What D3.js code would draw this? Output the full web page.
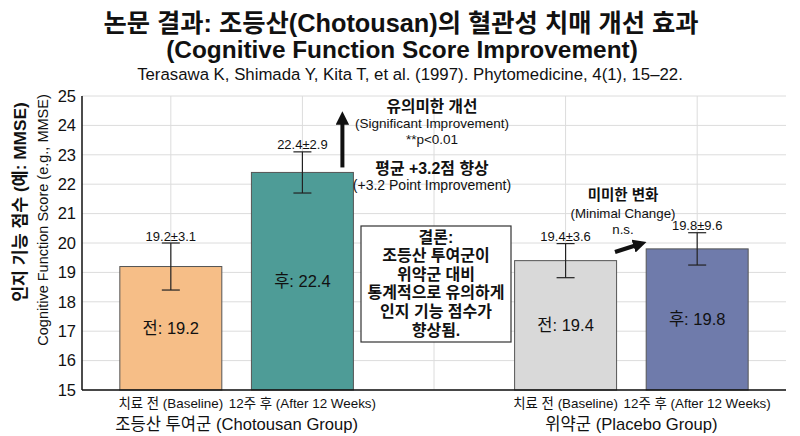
<!DOCTYPE html>
<html>
<head>
<meta charset="utf-8">
<script src="https://cdn.jsdelivr.net/npm/d3@7"></script>
<style>
  html, body { margin: 0; padding: 0; background: #fff; }
  svg { display: block; font-family: "Liberation Sans", Arial, "Noto Sans CJK KR", sans-serif; }
</style>
</head>
<body>
<svg id="chart" width="800" height="436"></svg>
<script>
// ---------- data ----------
const titleLines = [
  "논문 결과: 조등산(Chotousan)의 혈관성 치매 개선 효과",
  "(Cognitive Function Score Improvement)"
];
const citation = "Terasawa K, Shimada Y, Kita T, et al. (1997). Phytomedicine, 4(1), 15\u201322.";
const slots = ["cho_before", "cho_after", "gap", "pla_before", "pla_after"];
const barSlots = ["cho_before", "cho_after", "pla_before", "pla_after"];
const timeLabels = ["치료 전 (Baseline)", "12주 후 (After 12 Weeks)", "치료 전 (Baseline)", "12주 후 (After 12 Weeks)"];
const groupLabels = ["조등산 투여군 (Chotousan Group)", "위약군 (Placebo Group)"];
const groupSlots = [["cho_before", "cho_after"], ["pla_before", "pla_after"]];
const means = [19.2, 22.4, 19.4, 19.8];
const sds = [3.1, 2.9, 3.6, 9.6];
const errDrawn = [0.8, 0.7, 0.58, 0.55];
const barPrefix = ["전", "후", "전", "후"];
const barColors = ["#F6BE87", "#4E9C97", "#D9D9D9", "#6F7BAB"];
const yTicks = [15, 16, 17, 18, 19, 20, 21, 22, 23, 24, 25];
const yLabelKo = "인지 기능 점수 (예: MMSE)";
const yLabelEn = "Cognitive Function Score (e.g., MMSE)";
const sigLines = ["유의미한 개선", "(Significant Improvement)", "**p<0.01"];
const gainLines = ["평균 +3.2점 향상", "(+3.2 Point Improvement)"];
const minimalLines = ["미미한 변화", "(Minimal Change)", "n.s."];
const conclusionLines = ["결론:", "조등산 투여군이", "위약군 대비", "통계적으로 유의하게", "인지 기능 점수가", "향상됨."];

// ---------- layout ----------
const svg = d3.select("#chart");
const pLeft = 82, pRight = 786, pTop = 96, pBottom = 390;

const x = d3.scaleBand().domain(slots).range([pLeft, pRight]).paddingInner(0.225).paddingOuter(0.2875);
const cx = s => x(s) + x.bandwidth() / 2;
const y = d3.scaleLinear().domain([15, 25]).range([pBottom, pTop]);

// gridlines
const grid = svg.append("g");
grid.selectAll("line.h").data(yTicks).join("line").attr("class", "h")
  .attr("x1", pLeft).attr("x2", pRight)
  .attr("y1", d => y(d)).attr("y2", d => y(d))
  .attr("stroke", "#dcdcdc").attr("stroke-width", 1);
grid.selectAll("line.v").data(slots).join("line").attr("class", "v")
  .attr("x1", d => cx(d)).attr("x2", d => cx(d))
  .attr("y1", pTop).attr("y2", pBottom)
  .attr("stroke", "#dcdcdc").attr("stroke-width", 1);

// bars
const bars = svg.append("g");
bars.selectAll("rect").data(means).join("rect")
  .attr("x", (d, i) => x(barSlots[i]))
  .attr("width", x.bandwidth())
  .attr("y", d => y(d))
  .attr("height", d => y(15) - y(d))
  .attr("fill", (d, i) => barColors[i])
  .attr("stroke", "#555").attr("stroke-width", 1);

// bar labels
bars.selectAll("text").data(means).join("text")
  .attr("x", (d, i) => cx(barSlots[i]))
  .attr("y", d => (y(d) + y(15)) / 2)
  .attr("text-anchor", "middle").attr("dominant-baseline", "central")
  .attr("font-size", 16.5).attr("fill", "#111")
  .text((d, i) => barPrefix[i] + ": " + d.toFixed(1));

// error bars
const err = svg.append("g").attr("stroke", "#222").attr("stroke-width", 1.2);
means.forEach((m, i) => {
  const c = cx(barSlots[i]);
  const yt = y(m + errDrawn[i]), yb = y(m - errDrawn[i]);
  err.append("line").attr("x1", c).attr("x2", c).attr("y1", yt).attr("y2", yb);
  err.append("line").attr("x1", c - 9).attr("x2", c + 9).attr("y1", yt).attr("y2", yt);
  err.append("line").attr("x1", c - 9).attr("x2", c + 9).attr("y1", yb).attr("y2", yb);
  svg.append("text").attr("x", c).attr("y", yt - 7)
    .attr("text-anchor", "middle").attr("dominant-baseline", "central")
    .attr("font-size", 13).attr("fill", "#111")
    .text(m.toFixed(1) + "\u00b1" + sds[i].toFixed(1));
});

// axes
const yAxis = svg.append("g").attr("transform", `translate(${pLeft},0)`)
  .call(d3.axisLeft(y).tickValues(yTicks).tickSize(0).tickPadding(6).tickFormat(d3.format("d")));
yAxis.select(".domain").remove();
yAxis.selectAll("text").attr("font-size", 16.5).attr("fill", "#111")
  .style("font-family", "'Liberation Sans', Arial, sans-serif");
svg.append("line").attr("x1", pLeft).attr("x2", pLeft).attr("y1", pTop).attr("y2", pBottom)
  .attr("stroke", "#111").attr("stroke-width", 1.5);
svg.append("line").attr("x1", pLeft).attr("x2", pRight).attr("y1", pBottom).attr("y2", pBottom)
  .attr("stroke", "#111").attr("stroke-width", 1.5);

// x labels
svg.append("g").selectAll("text").data(timeLabels).join("text")
  .attr("x", (d, i) => cx(barSlots[i]))
  .attr("y", 403)
  .attr("text-anchor", "middle").attr("dominant-baseline", "central")
  .attr("font-size", 13.4).attr("fill", "#111")
  .text(d => d);
svg.append("g").selectAll("text").data(groupLabels).join("text")
  .attr("x", (d, i) => (cx(groupSlots[i][0]) + cx(groupSlots[i][1])) / 2)
  .attr("y", 424)
  .attr("text-anchor", "middle").attr("dominant-baseline", "central")
  .attr("font-size", 16.6).attr("fill", "#111")
  .text(d => d);

// y label
svg.append("text").attr("transform", "translate(20,202) rotate(-90)")
  .attr("text-anchor", "middle").attr("dominant-baseline", "central")
  .attr("font-size", 17.3).attr("font-weight", "bold").attr("fill", "#111")
  .text(yLabelKo);
svg.append("text").attr("transform", "translate(43,220) rotate(-90)")
  .attr("text-anchor", "middle").attr("dominant-baseline", "central")
  .attr("font-size", 14.5).attr("fill", "#111")
  .text(yLabelEn);

// title
svg.append("text").attr("x", 401).attr("y", 23)
  .attr("text-anchor", "middle").attr("dominant-baseline", "central")
  .attr("font-size", 25.3).attr("font-weight", "bold").attr("fill", "#111")
  .text(titleLines[0]);
svg.append("text").attr("x", 402).attr("y", 49)
  .attr("text-anchor", "middle").attr("dominant-baseline", "central")
  .attr("font-size", 24.4).attr("font-weight", "bold").attr("fill", "#111")
  .text(titleLines[1]);
svg.append("text").attr("x", 410).attr("y", 74)
  .attr("text-anchor", "middle").attr("dominant-baseline", "central")
  .attr("font-size", 16.8).attr("fill", "#111")
  .text(citation);

// arrow marker
const defs = svg.append("defs");
defs.append("marker").attr("id", "head").attr("viewBox", "0 0 10 10")
  .attr("refX", 5).attr("refY", 5).attr("markerWidth", 3.4).attr("markerHeight", 3.4)
  .attr("orient", "auto")
  .append("path").attr("d", "M0,0 L10,5 L0,10 Z").attr("fill", "#111");

// significant improvement arrow
const arrowX = x("cho_after") + x.bandwidth() - 11;
svg.append("line").attr("x1", arrowX).attr("x2", arrowX)
  .attr("y1", y(22.4) - 5).attr("y2", 118)
  .attr("stroke", "#111").attr("stroke-width", 4).attr("marker-end", "url(#head)");

const annot = svg.append("g").attr("fill", "#111").attr("text-anchor", "middle").attr("dominant-baseline", "central");
const sigY = [106, 123, 139];
sigLines.forEach((t, i) => {
  annot.append("text").attr("x", 432).attr("y", sigY[i])
    .attr("font-size", i === 0 ? 15.7 : 13.5).attr("font-weight", i === 0 ? "bold" : "normal").text(t);
});
const gainY = [168, 185];
gainLines.forEach((t, i) => {
  annot.append("text").attr("x", 432).attr("y", gainY[i])
    .attr("font-size", i === 0 ? 15.9 : 14).attr("font-weight", i === 0 ? "bold" : "normal").text(t);
});
const minY = [195, 213, 229];
minimalLines.forEach((t, i) => {
  annot.append("text").attr("x", 623).attr("y", minY[i])
    .attr("font-size", i === 0 ? 14.5 : 13.3).attr("font-weight", i === 0 ? "bold" : "normal").text(t);
});

// minimal change arrow
svg.append("line").attr("x1", 615).attr("y1", 252).attr("x2", 640).attr("y2", 244)
  .attr("stroke", "#111").attr("stroke-width", 4).attr("marker-end", "url(#head)");

// conclusion box
const boxX = cx("gap") + 2;
svg.append("rect").attr("x", boxX - 75).attr("y", 226).attr("width", 150).attr("height", 116)
  .attr("fill", "#fff").attr("stroke", "#333").attr("stroke-width", 1.2);
const concl = svg.append("g").attr("fill", "#111").attr("text-anchor", "middle").attr("dominant-baseline", "central");
conclusionLines.forEach((t, i) => {
  concl.append("text").attr("x", boxX).attr("y", 237 + i * 18.6)
    .attr("font-size", 16).attr("font-weight", "bold").text(t);
});
</script>
</body>
</html>
